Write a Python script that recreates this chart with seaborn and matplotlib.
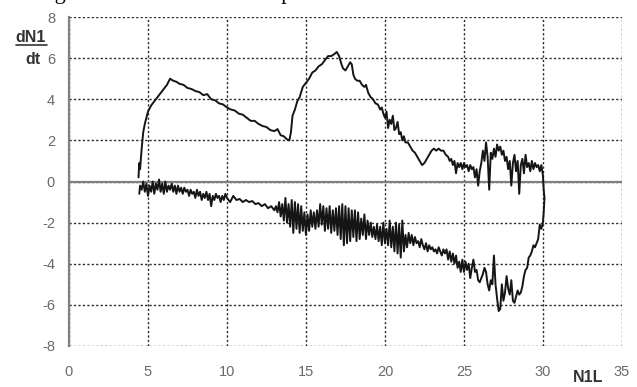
import matplotlib
matplotlib.use("Agg")
import matplotlib.pyplot as plt
import seaborn as sns

# forward branch (upper curve)
upper_x = [4.4, 4.45, 4.5, 4.6, 4.7, 4.8, 5.0, 5.2, 5.4, 5.6, 5.8, 6.0, 6.2, 6.4, 6.6,
           6.8, 7.0, 7.25, 7.5, 7.75, 8.0, 8.25, 8.5, 8.75, 9.0, 9.25, 9.5, 9.75, 10.0,
           10.25, 10.5, 10.75, 11.0, 11.25, 11.5, 11.75, 12.0, 12.25, 12.5, 12.75, 13.0,
           13.2, 13.4, 13.6, 13.8, 13.95,
           14.05, 14.15, 14.3, 14.45, 14.6, 14.8, 15.0, 15.2, 15.4, 15.6, 15.8, 16.0,
           16.2, 16.4, 16.6, 16.8, 16.95, 17.1, 17.25, 17.35, 17.5, 17.65, 17.8, 17.9,
           18.0, 18.1, 18.25, 18.4, 18.55, 18.7, 18.8, 18.95, 19.1, 19.25, 19.4, 19.55,
           19.7, 19.8, 19.9, 20.0, 20.1, 20.2, 20.3, 20.4, 20.5, 20.6, 20.7, 20.8, 20.9,
           21.0, 21.1, 21.2, 21.3, 21.45, 21.6, 21.75, 21.9, 22.05, 22.2, 22.35, 22.5,
           22.65, 22.8, 22.95, 23.1, 23.25, 23.4, 23.55, 23.7, 23.85, 24.0, 24.1, 24.2,
           24.3, 24.4, 24.5, 24.6, 24.7, 24.8, 24.9, 25.0, 25.1, 25.2, 25.3, 25.4, 25.5,
           25.6, 25.7, 25.8, 25.9, 26.0, 26.1, 26.2, 26.3, 26.4, 26.5, 26.6, 26.7, 26.8,
           26.9, 27.0, 27.1, 27.2, 27.3, 27.4, 27.5, 27.6, 27.7, 27.8, 27.9, 28.0, 28.1,
           28.2, 28.3, 28.4, 28.5, 28.6, 28.7, 28.8, 28.9, 29.0, 29.1, 29.2, 29.3, 29.4,
           29.5, 29.6, 29.7, 29.8, 29.9, 30.0, 30.05]
upper_y = [0.2, 0.9, 0.6, 1.6, 2.4, 2.8, 3.4, 3.7, 3.9, 4.1, 4.3, 4.5, 4.7, 5.0, 4.9,
           4.85, 4.75, 4.7, 4.55, 4.5, 4.4, 4.35, 4.2, 4.25, 4.0, 3.95, 3.8, 3.75, 3.6,
           3.5, 3.45, 3.3, 3.25, 3.1, 2.95, 2.95, 2.8, 2.7, 2.65, 2.5, 2.45,
           2.55, 2.25, 2.2, 2.05, 2.0,
           2.4, 3.2, 3.5, 3.9, 4.1, 4.6, 4.8, 5.0, 5.3, 5.4, 5.6, 5.7,
           5.9, 6.1, 6.1, 6.2, 6.3, 6.1, 5.7, 5.5, 5.4, 5.6, 5.8, 5.7,
           5.2, 5.0, 4.9, 4.9, 4.7, 4.6, 4.7, 4.3, 4.1, 4.0, 3.8, 3.75,
           3.5, 3.6, 3.3, 3.1, 3.4, 2.6, 3.0, 2.8, 3.2, 2.5, 2.6, 2.9, 2.3,
           2.4, 2.0, 2.2, 1.9, 1.9, 1.7, 1.5, 1.4, 1.2, 1.0, 0.8, 0.9,
           1.1, 1.3, 1.5, 1.6, 1.5, 1.6, 1.5, 1.5, 1.3, 1.2, 1.0, 1.1,
           0.8, 1.0, 0.4, 0.9, 0.7, 0.9, 0.6, 0.9, 0.7, 0.8, 0.5, 0.8, 0.6,
           0.7, 0.2, 0.6, -0.2, 0.5, 0.9, 1.5, 1.0, 1.9, 1.2, -0.4, 1.4, 1.1,
           1.6, 1.2, 1.8, 1.5, 1.7, 1.3, 1.5, 1.0, 1.2, 0.6, 1.0, -0.2, 0.9,
           1.3, 0.5, 1.0, -0.6, 0.8, 1.1, 0.4, 1.3, 0.7, 0.9, 0.5, 1.0, 0.6,
           0.9, 0.7, 0.8, 0.5, 0.8, 0.3, -0.4]

# return branch (lower curve), from N1L = 30 back to 4.5
lower_x = [30.1, 30.05, 30.0, 29.9, 29.8, 29.7, 29.6, 29.5, 29.4, 29.3, 29.2, 29.1, 29.0,
           28.9, 28.8, 28.7, 28.6, 28.5, 28.4, 28.3, 28.2, 28.1, 28.0, 27.9, 27.8, 27.7,
           27.6, 27.5, 27.4, 27.3, 27.2, 27.1, 27.0, 26.9, 26.8, 26.7, 26.6, 26.5, 26.4,
           26.3, 26.2, 26.1, 26.0, 25.9, 25.8, 25.7, 25.6, 25.5, 25.4, 25.3, 25.2, 25.1,
           25.0, 24.9, 24.8, 24.7, 24.6, 24.5, 24.4, 24.3, 24.2, 24.1, 24.0, 23.9, 23.8,
           23.7, 23.6, 23.5, 23.4, 23.3, 23.2, 23.1, 23.0, 22.9, 22.8, 22.7, 22.6, 22.5,
           22.4, 22.3, 22.2, 22.1, 22.0, 21.9, 21.8, 21.7, 21.6, 21.5, 21.4, 21.3, 21.2,
           21.1, 21.0, 20.9, 20.8, 20.7, 20.6, 20.5, 20.4, 20.3, 20.2, 20.1, 20.0, 19.9,
           19.8, 19.7, 19.6, 19.5, 19.4, 19.3, 19.2, 19.1, 19.0, 18.9, 18.8, 18.7, 18.6,
           18.5, 18.4, 18.3, 18.2, 18.1, 18.0, 17.9, 17.8, 17.7, 17.6, 17.5, 17.4, 17.3,
           17.2, 17.1, 17.0, 16.9, 16.8, 16.7, 16.6, 16.5, 16.4, 16.3, 16.2, 16.1, 16.0,
           15.9, 15.8, 15.7, 15.6, 15.5, 15.4, 15.3, 15.2, 15.1, 15.0, 14.9, 14.8, 14.7,
           14.6, 14.5, 14.4, 14.3, 14.2, 14.1, 14.0, 13.9, 13.8, 13.7, 13.6, 13.5, 13.4,
           13.3, 13.2, 13.1, 13.0, 12.8, 12.6, 12.4, 12.2, 12.0, 11.8, 11.6, 11.4, 11.2,
           11.0, 10.8, 10.6, 10.4, 10.2, 10.0, 9.9, 9.8, 9.7, 9.6, 9.5, 9.4, 9.3, 9.2,
           9.1, 9.0, 8.9, 8.8, 8.7, 8.6, 8.5, 8.4, 8.3, 8.2, 8.1, 8.0, 7.9, 7.8, 7.7,
           7.6, 7.5, 7.4, 7.3, 7.2, 7.1, 7.0, 6.9, 6.8, 6.7, 6.6, 6.5, 6.4, 6.3, 6.2,
           6.1, 6.0, 5.9, 5.8, 5.7, 5.6, 5.5, 5.4, 5.3, 5.2, 5.1, 5.0, 4.9, 4.8, 4.7,
           4.6, 4.5, 4.45]
lower_y = [-0.8, -1.5, -2.0, -2.3, -2.1, -2.8, -3.0, -3.2, -3.1, -3.4, -3.6, -3.7, -4.2,
           -4.3, -4.6, -5.1, -5.4, -5.5, -5.3, -5.6, -5.9, -5.8, -4.8, -5.5, -5.2, -4.6,
           -5.4, -5.8, -5.0, -6.2, -6.3, -5.7, -5.0, -3.6, -5.0, -4.8, -5.3, -5.0, -4.4,
           -4.2, -4.5, -4.7, -4.9, -4.8, -4.3, -4.4, -3.8, -4.2, -4.7, -4.0, -4.3, -3.9,
           -4.4, -3.8, -4.4, -3.9, -4.2, -3.6, -4.0, -3.5, -3.9, -3.4, -3.8, -3.3, -3.5,
           -3.3, -3.6, -3.4, -3.2, -3.5, -3.3, -3.4, -3.2, -3.3, -3.1, -3.4, -3.0, -3.3,
           -3.1, -2.8, -3.2, -2.9, -3.0, -2.7, -3.1, -2.6, -3.0, -2.5, -3.2, -2.6, -3.4,
           -1.9, -3.7, -2.1, -3.5, -2.0, -3.4, -2.2, -3.2, -1.9, -3.1, -2.3, -3.0, -2.0,
           -3.1, -2.2, -2.9, -2.1, -2.8, -2.2, -2.7, -2.0, -2.6, -1.9, -2.8, -1.6, -2.6,
           -1.8, -2.8, -1.5, -2.9, -1.4, -2.7, -1.4, -2.9, -1.3, -3.0, -1.2, -3.1, -1.1,
           -2.8, -1.2, -2.6, -1.3, -2.4, -1.4, -2.5, -1.2, -2.3, -1.3, -2.4, -1.2, -2.1,
           -1.1, -2.2, -1.4, -2.3, -1.5, -2.2, -1.4, -2.4, -1.6, -2.6, -1.5, -2.4, -1.2,
           -2.5, -1.1, -2.3, -1.0, -2.5, -0.9, -2.2, -1.1, -2.0, -0.8, -1.9, -1.1, -1.7,
           -1.0, -1.5, -1.2, -1.4, -1.2, -1.3, -1.1, -1.2, -1.05, -1.1, -0.95, -1.0, -0.9,
           -1.0, -0.85, -0.9, -0.7, -1.0, -0.8, -0.6, -0.9, -0.7, -1.0, -0.7, -0.8, -0.6, -0.9,
           -0.7, -1.2, -0.6, -0.9, -0.5, -0.8, -0.6, -0.9, -0.5, -0.7, -0.4, -0.8, -0.5, -0.6, -0.4,
           -0.7, -0.4, -0.5, -0.3, -0.6, -0.3, -0.5, -0.2, -0.6, -0.2, -0.5, -0.1, -0.4, -0.2, -0.5,
           0.0, -0.6, -0.1, -0.5, 0.1, -0.4, -0.1, -0.6, 0.0, -0.5, -0.2, -0.7, -0.1, -0.5, 0.0,
           -0.4, -0.2, -0.6]

x_ticks = [0, 5, 10, 15, 20, 25, 30, 35]
y_ticks = [-8, -6, -4, -2, 0, 2, 4, 6, 8]

sns.set_style("white")
plt.rcParams['font.family'] = ['Liberation Sans', 'DejaVu Sans']
plt.rcParams['axes.unicode_minus'] = False

fig = plt.figure(figsize=(6.37, 3.87), dpi=100)
ax = fig.add_axes([0.1083, 0.106, 0.868, 0.850])

loop_x = upper_x + lower_x
loop_y = upper_y + lower_y
sns.lineplot(x=loop_x, y=loop_y, sort=False, estimator=None, color='#151515',
             linewidth=1.4, ax=ax, zorder=5)

ax.set_xlim(0, 35)
ax.set_ylim(-8, 8)
ax.set_xticks(x_ticks)
ax.set_yticks(y_ticks)
ax.grid(True, linestyle=(0, (1.6, 1.6)), color='#2a2a2a', linewidth=1.0)
ax.axhline(0, color='#808080', linewidth=1.6, zorder=3)

for s in ['top', 'right', 'bottom']:
    ax.spines[s].set_visible(False)
ax.spines['left'].set_color('#808080')
ax.spines['left'].set_linewidth(1.6)
ax.spines['left'].set_zorder(4)

ax.tick_params(axis='y', length=4, width=1.2, color='#808080', pad=6,
               labelsize=10.5, labelcolor='#6a6a6a')
ax.tick_params(axis='x', length=0, pad=14, labelsize=10.5, labelcolor='#6a6a6a')
ax.set_xlabel('')
ax.set_ylabel('')

# axis titles as in the original
fig.text(31 / 637, 1 - 37 / 387, 'dN1', ha='center', va='center', fontsize=11.5,
         fontweight='bold', color='#333333')
fig.lines.append(plt.Line2D([16 / 637, 47 / 637], [1 - 45 / 387, 1 - 45 / 387],
                            transform=fig.transFigure, color='#333333', lw=1.2))
fig.text(33 / 637, 1 - 59 / 387, 'dt', ha='center', va='center', fontsize=11.5,
         fontweight='bold', color='#333333')
fig.text(588 / 637, 1 - 377 / 387, 'N1L', ha='center', va='center', fontsize=11.5,
         fontweight='bold', color='#333333')

# caption cut off at the top edge, only descenders show
fig.text(36 / 637, 1 - 4 / 387, 'Figure 5. Rate of N1 in the phase domain',
         ha='left', va='bottom', fontsize=16, family='Liberation Serif', color='black')

fig.savefig('out.png', dpi=100)
